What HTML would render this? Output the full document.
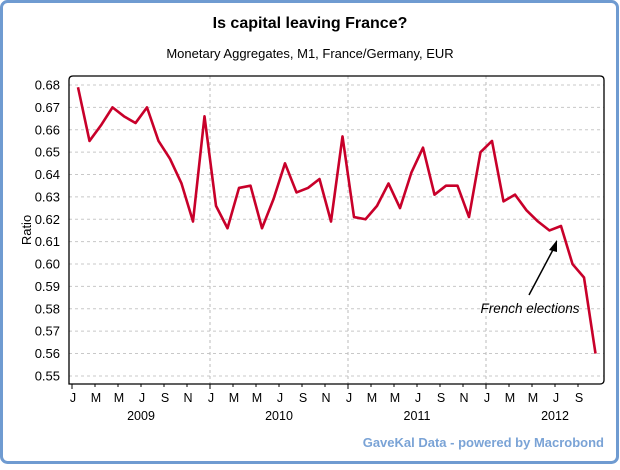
<!DOCTYPE html>
<html><head><style>
body{margin:0;background:#fff;font-family:"Liberation Sans",sans-serif}
</style></head><body>
<svg id="s" width="620" height="465" xmlns="http://www.w3.org/2000/svg" font-family="Liberation Sans, sans-serif">
<rect x="1.5" y="1.5" width="616" height="461" rx="6" fill="#fff" stroke="#6f9bd1" stroke-width="3"/>
<text x="310" y="28" text-anchor="middle" font-size="16" font-weight="bold">Is capital leaving France?</text>
<text x="310" y="58" text-anchor="middle" font-size="13">Monetary Aggregates, M1, France/Germany, EUR</text>
<g id="g"></g>
<path d="M69,384 L69,80 Q69,76 73,76 L600,76 Q604,76 604,80 L604,380 Q604,384 600,384 Z" fill="none" stroke="#000" stroke-width="1.3"/>
<text transform="translate(31,230) rotate(-90)" text-anchor="middle" font-size="13">Ratio</text>
<line x1="529" y1="295" x2="555" y2="246" stroke="#000" stroke-width="1.5"/>
<polygon points="557,240 549,250 557,252" fill="#000"/>
<text x="530" y="313" text-anchor="middle" font-size="13.5" font-style="italic">French elections</text>
<text x="604" y="447" text-anchor="end" font-size="13" font-weight="bold" fill="#7aa3d6">GaveKal Data - powered by Macrobond</text>
</svg>
<script>
var g=document.getElementById('g'),h='';
function Y(v){return 85+(0.68-v)*2238;}
for(var i=0;i<14;i++){var v=0.68-i*0.01,y=Y(v);
h+='<line x1="69" x2="604" y1="'+y+'" y2="'+y+'" stroke="#c8c8c8" stroke-dasharray="3,3"/>';
h+='<text x="60" y="'+(y+4.5)+'" text-anchor="end" font-size="13">'+v.toFixed(2)+'</text>';}
var L='JMMJSN';
for(var yr=0;yr<4;yr++){var x0=72+yr*138;
if(yr>0)h+='<line x1="'+x0+'" x2="'+x0+'" y1="76" y2="384" stroke="#bbb" stroke-dasharray="3,3"/>';
h+='<line x1="'+x0+'" x2="'+x0+'" y1="384" y2="389" stroke="#000"/>';
h+='<text x="'+(x0+69)+'" y="420" text-anchor="middle" font-size="12.5">'+(2009+yr)+'</text>';
for(var m=0;m<6;m++){var x=x0+m*23;if(yr==3&&m==5)break;
if(m>0)h+='<line x1="'+x+'" x2="'+x+'" y1="384" y2="387" stroke="#000"/>';
h+='<text x="'+(x+1)+'" y="402" text-anchor="middle" font-size="12.5">'+L[m]+'</text>';}}
var d=[0.679,0.655,0.662,0.670,0.666,0.663,0.670,0.655,0.647,0.636,0.619,0.666,0.626,0.616,0.634,0.635,0.616,0.629,0.645,0.632,0.634,0.638,0.619,0.657,0.621,0.620,0.626,0.636,0.625,0.641,0.652,0.631,0.635,0.635,0.621,0.650,0.655,0.628,0.631,0.624,0.619,0.615,0.617,0.600,0.594,0.560];
var p=d.map(function(v,i){return (78+11.5*i)+','+Y(v)}).join(' ');
h+='<polyline points="'+p+'" fill="none" stroke="#c8002a" stroke-width="2.6" stroke-linejoin="round"/>';
g.innerHTML=h;
</script>
</body></html>
